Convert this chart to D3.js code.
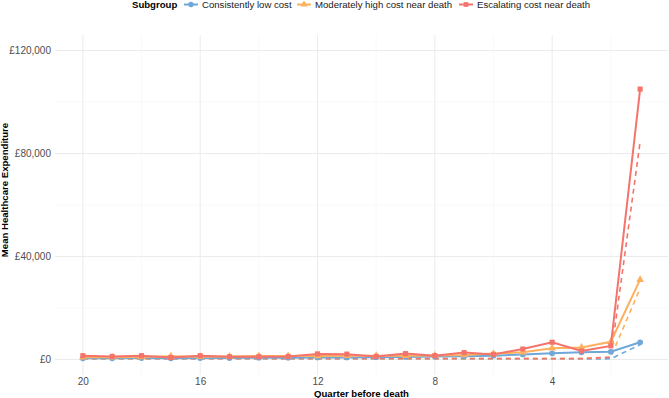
<!DOCTYPE html>
<html><head><meta charset="utf-8">
<script src="https://cdn.jsdelivr.net/npm/d3@7"></script>
<style>body{margin:0;background:#fff;font-family:"Liberation Sans",Arial,sans-serif}</style>
</head><body><svg id="c" width="669" height="398"></svg>
<script>
const quarters = [20,19,18,17,16,15,14,13,12,11,10,9,8,7,6,5,4,3,2,1];
const seriesNames = ["Consistently low cost","Moderately high cost near death","Escalating cost near death"];
const lowCost      = [500,500,600,500,600,600,700,700,800,800,900,1000,1200,1300,1500,2000,2400,2800,3000,6700];
const moderateCost = [900,900,1000,1300,1100,1200,1400,1400,1400,1500,1500,1500,1600,1800,2300,2800,4400,4700,6900,31000];
const escalateCost = [1500,1200,1500,800,1500,1100,1100,1200,2200,2100,1200,2300,1500,2700,2000,4100,6700,3300,5300,105000];
const lowDashed      = [200,200,200,200,200,200,200,200,200,200,200,200,200,200,200,200,200,200,300,5800];
const moderateDashed = [350,350,350,350,350,350,350,350,350,350,350,350,350,350,350,350,350,350,900,27700];
const escalateDashed = [400,400,400,400,400,400,400,400,400,400,400,400,400,400,400,400,400,400,900,84600];
const xTicks = [20,16,12,8,4];
const xMinor = [18,14,10,6,2];
const yTicks = [0,40000,80000,120000];
const yMinor = [20000,60000,100000];
const colors = ["#6fa8d8","#fdb05e","#f4736b"];

const svg = d3.select("#c");
const L = 55, R = 668, T = 35, B = 375;
const x = d3.scaleLinear().domain([20.95,0.05]).range([L,R]);
const y = d3.scaleLinear().domain([-6000,126000]).range([B,T]);
const FONT = "Liberation Sans, Arial, sans-serif";

const g = svg.append("g");
g.selectAll(".mx").data(xMinor).enter().append("line")
 .attr("x1",d=>x(d)).attr("x2",d=>x(d)).attr("y1",T).attr("y2",B)
 .attr("stroke","#f3f3f3").attr("stroke-width",0.5);
g.selectAll(".my").data(yMinor).enter().append("line")
 .attr("y1",d=>y(d)).attr("y2",d=>y(d)).attr("x1",L).attr("x2",R)
 .attr("stroke","#f3f3f3").attr("stroke-width",0.5);
g.selectAll(".gx").data(xTicks).enter().append("line")
 .attr("x1",d=>x(d)).attr("x2",d=>x(d)).attr("y1",T).attr("y2",B)
 .attr("stroke","#ebebeb").attr("stroke-width",1);
g.selectAll(".gy").data(yTicks).enter().append("line")
 .attr("y1",d=>y(d)).attr("y2",d=>y(d)).attr("x1",L).attr("x2",R)
 .attr("stroke","#ebebeb").attr("stroke-width",1);

const fmt = d => "£" + d3.format(",")(d);
const ya = svg.append("g").attr("transform",`translate(${L},0)`)
 .call(d3.axisLeft(y).tickValues(yTicks).tickFormat(fmt).tickSize(0).tickPadding(4));
ya.select(".domain").remove();
ya.selectAll("text").attr("fill","#4d4d4d").style("font-size","10px").style("font-family",FONT);
const xa = svg.append("g").attr("transform",`translate(0,${B})`)
 .call(d3.axisBottom(x).tickValues(xTicks).tickFormat(d3.format("d")).tickSize(0).tickPadding(3));
xa.select(".domain").remove();
xa.selectAll("text").attr("fill","#4d4d4d").style("font-size","10px").style("font-family",FONT);

svg.append("text").attr("x",(L+R)/2).attr("y",397).attr("text-anchor","middle")
 .style("font-size","9.6px").style("font-weight","bold").style("font-family",FONT).text("Quarter before death");
svg.append("text").attr("transform",`translate(8,190) rotate(-90)`).attr("text-anchor","middle")
 .style("font-size","9.6px").style("font-weight","bold").style("font-family",FONT).text("Mean Healthcare Expenditure");

const solid = [lowCost, moderateCost, escalateCost];
const dashed = [lowDashed, moderateDashed, escalateDashed];
const line = d3.line().x((d,i)=>x(quarters[i])).y(d=>y(d));
const shapes = [d3.symbolCircle, d3.symbolTriangle, d3.symbolSquare];
[0,1,2].forEach(k=>{
  svg.append("path").attr("d",line(dashed[k])).attr("fill","none")
   .attr("stroke",colors[k]).attr("stroke-width",1.6).attr("stroke-dasharray","5,4");
});
[0,1,2].forEach(k=>{
  svg.append("path").attr("d",line(solid[k])).attr("fill","none")
   .attr("stroke",colors[k]).attr("stroke-width",2);
  svg.selectAll(null).data(solid[k]).enter().append("path")
   .attr("d",d3.symbol().type(shapes[k]).size(26))
   .attr("transform",(d,i)=>`translate(${x(quarters[i])},${y(d)})`)
   .attr("fill",colors[k]);
});

const lg = svg.append("g");
lg.append("text").attr("x",132).attr("y",8).style("font-size","9.6px").style("font-weight","bold").style("font-family",FONT).text("Subgroup");
const keyX = [191, 304, 466];
seriesNames.forEach((n,k)=>{
  lg.append("line").attr("x1",keyX[k]-7).attr("x2",keyX[k]+7).attr("y1",4.5).attr("y2",4.5)
   .attr("stroke",colors[k]).attr("stroke-width",2);
  lg.append("path").attr("d",d3.symbol().type(shapes[k]).size(22)())
   .attr("transform",`translate(${keyX[k]},4.5)`).attr("fill",colors[k]);
  lg.append("text").attr("x",keyX[k]+11).attr("y",8).style("font-size","9.6px").style("font-family",FONT).attr("fill","#1a1a1a").text(n);
});
</script></body></html>
